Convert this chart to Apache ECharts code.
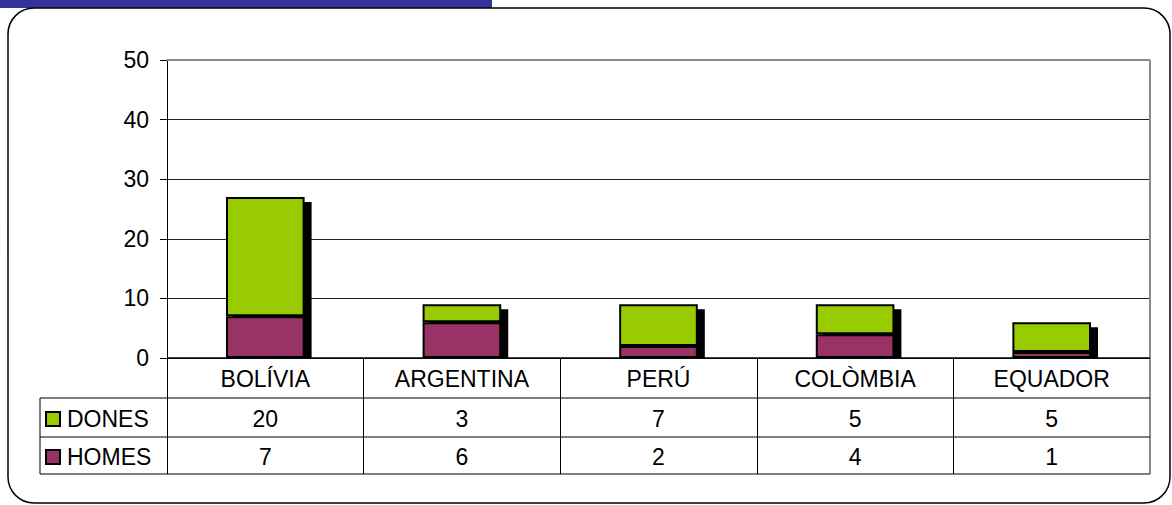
<!DOCTYPE html>
<html>
<head>
<meta charset="utf-8">
<script src="https://cdn.jsdelivr.net/npm/echarts@6/dist/echarts.min.js"></script>
<style>
  html, body { margin:0; padding:0; background:#fff; }
  #main { width:1172px; height:505px; }
</style>
</head>
<body>
<div id="main"></div>
<script>
// dades
var paisos = ['BOLÍVIA', 'ARGENTINA', 'PERÚ', 'COLÒMBIA', 'EQUADOR'];
var dones = [20, 3, 7, 5, 5];
var homes = [7, 6, 2, 4, 1];
var yTicks = [0, 10, 20, 30, 40, 50];

var totals = paisos.map(function (p, i) { return dones[i] + homes[i]; });

var FONT = '"Liberation Sans", Arial, sans-serif';
var VERD = '#99CC00';
var GRANA = '#993366';

var myChart = echarts.init(document.getElementById('main'), null, {renderer: 'svg'});

var catAxis = function (offset, fmt, ticks) {
  return {
    type: 'category',
    data: paisos,
    position: 'bottom',
    offset: offset,
    gridIndex: 0,
    axisLine: {show: false},
    axisTick: ticks ? {show: true, length: 116, lineStyle: {color: '#000', width: 1}} : {show: false},
    axisLabel: {
      show: true, interval: 0, margin: 9,
      fontFamily: FONT, fontSize: 23, color: '#000',
      formatter: fmt
    },
    splitLine: {show: false}
  };
};

var option = {
  animation: false,
  textStyle: {fontFamily: FONT},
  grid: {left: 167, right: 22, top: 60, height: 298, containLabel: false},
  xAxis: [
    catAxis(0, null, true),
    catAxis(40, function (v, i) { return String(dones[i]); }, false),
    catAxis(78, function (v, i) { return String(homes[i]); }, false)
  ],
  yAxis: {
    type: 'value',
    min: yTicks[0], max: yTicks[yTicks.length - 1], interval: 10,
    axisLine: {show: true, lineStyle: {color: '#000', width: 1}},
    axisTick: {show: true, length: 7, lineStyle: {color: '#000'}},
    axisLabel: {margin: 18, fontFamily: FONT, fontSize: 23, color: '#000'},
    splitLine: {show: true, lineStyle: {color: '#222', width: 1}}
  },
  series: [
    {
      // ombra negra dels pilars
      name: 'ombra',
      type: 'custom',
      xAxisIndex: 0,
      z: 1,
      data: totals.map(function (t, i) { return [i, t]; }),
      renderItem: function (params, api) {
        var top = api.coord([api.value(0), api.value(1)]);
        var zero = api.coord([api.value(0), 0]);
        var w = api.size([1, 0])[0] * 0.4;
        return {
          type: 'rect',
          shape: {x: top[0] - w / 2 + 7, y: top[1] + 5, width: w, height: zero[1] - top[1] - 5},
          style: {fill: '#000'}
        };
      }
    },
    {
      name: 'HOMES', type: 'bar', stack: 'total', barWidth: '40%', z: 2,
      data: homes,
      itemStyle: {color: GRANA, borderColor: '#000', borderWidth: 2}
    },
    {
      name: 'DONES', type: 'bar', stack: 'total', barWidth: '40%', z: 2,
      data: dones,
      itemStyle: {color: VERD, borderColor: '#000', borderWidth: 2}
    }
  ]
};

myChart.setOption(option);

// marc, taula, llegenda i franja superior
function dibuixaMarc() {
  var x0 = myChart.convertToPixel({xAxisIndex: 0}, 0);
  var band = myChart.convertToPixel({xAxisIndex: 0}, 1) - x0;
  var left = x0 - band / 2;
  var right = left + band * paisos.length;
  var y0 = myChart.convertToPixel({yAxisIndex: 0}, 0);
  var yTop = myChart.convertToPixel({yAxisIndex: 0}, 50);
  var rows = [y0 + 40, y0 + 79, y0 + 116];
  var g = [
    {type: 'rect', shape: {x: 0, y: 0, width: 492, height: 8}, style: {fill: '#333399'}, z: 10},
    {type: 'rect', shape: {x: 8, y: 8, width: 1162, height: 495, r: 26}, style: {fill: 'none', stroke: '#000', lineWidth: 1.5}, z: 10},
    // vora superior i dreta del gràfic
    {type: 'line', shape: {x1: left, y1: yTop, x2: right, y2: yTop}, style: {stroke: '#8c8c8c', lineWidth: 2}, z: 5},
    {type: 'line', shape: {x1: right, y1: yTop, x2: right, y2: rows[2]}, style: {stroke: '#8c8c8c', lineWidth: 2}, z: 5},
    // línia base
    {type: 'line', shape: {x1: left, y1: y0, x2: right, y2: y0}, style: {stroke: '#000', lineWidth: 1.5}, z: 5},
    {type: 'line', shape: {x1: 40, y1: rows[0], x2: 40, y2: rows[2]}, style: {stroke: '#000', lineWidth: 1}, z: 5}
  ];
  rows.forEach(function (r) {
    g.push({type: 'line', shape: {x1: 40, y1: r, x2: right, y2: r}, style: {stroke: '#000', lineWidth: 1}, z: 5});
  });
  var llegenda = [['DONES', VERD], ['HOMES', GRANA]];
  llegenda.forEach(function (it, k) {
    var cy = (k === 0 ? (rows[0] + rows[1]) / 2 : (rows[1] + rows[2]) / 2) + 1.5;
    g.push({type: 'rect', shape: {x: 46, y: cy - 7, width: 14, height: 14},
            style: {fill: it[1], stroke: '#000', lineWidth: 2}, z: 6});
    g.push({type: 'text', x: 67, y: cy,
            style: {text: it[0], fontFamily: FONT, fontSize: 23, fill: '#000', textVerticalAlign: 'middle', verticalAlign: 'middle'}, z: 6});
  });
  myChart.setOption({graphic: g});
}
dibuixaMarc();
</script>
</body>
</html>
